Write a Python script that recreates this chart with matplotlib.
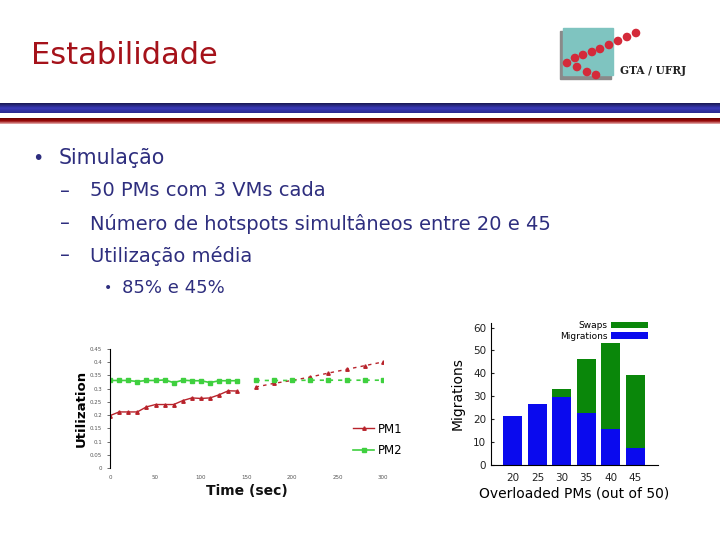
import numpy as np
import matplotlib
matplotlib.use('Agg')
import matplotlib.pyplot as plt
from matplotlib.patches import Rectangle, Circle
from matplotlib.colors import LinearSegmentedColormap

# ---- data ----
t_solid = [0, 10, 20, 30, 40, 50, 60, 70, 80, 90, 100, 110, 120, 130, 140]
pm1_solid = [0.198, 0.212, 0.212, 0.212, 0.231, 0.240, 0.240, 0.240, 0.255, 0.265, 0.263, 0.265, 0.277, 0.292, 0.291]
pm2_solid = [0.331, 0.331, 0.331, 0.327, 0.331, 0.331, 0.333, 0.323, 0.332, 0.330, 0.330, 0.323, 0.330, 0.330, 0.330]
t_dot = [160, 180, 200, 220, 240, 260, 280, 300]
pm1_dot = [0.306, 0.320, 0.331, 0.344, 0.359, 0.373, 0.387, 0.401]
pm2_dot = [0.331, 0.331, 0.331, 0.332, 0.332, 0.332, 0.332, 0.332]

overloaded = [20, 25, 30, 35, 40, 45]
migrations = [21.5, 26.6, 29.6, 22.8, 15.9, 7.6]
totals = [21.5, 26.6, 33.3, 46.4, 53.4, 39.4]
swaps = [tt - m for tt, m in zip(totals, migrations)]

bullets = [
    (0, u'Simulação'),
    (1, u'50 PMs com 3 VMs cada'),
    (1, u'Número de hotspots simultâneos entre 20 e 45'),
    (1, u'Utilização média'),
    (2, u'85% e 45%'),
]

W, H = 720, 540
fig = plt.figure(figsize=(7.2, 5.4), dpi=100)
fig.patch.set_facecolor('white')

def frac(x0, y0, x1, y1):
    # pixel box (top-left origin) -> figure fraction rect
    return [x0 / W, 1 - y1 / H, (x1 - x0) / W, (y1 - y0) / H]

# ---- slide decoration ----
bg = fig.add_axes([0, 0, 1, 1])
bg.set_xlim(0, W)
bg.set_ylim(H, 0)
bg.axis('off')

grad = np.linspace(0, 1, 20).reshape(-1, 1)
blue_cm = LinearSegmentedColormap.from_list('b', ['#1a1a55', '#3a3ab8', '#2a2a90'])
bg.imshow(grad, cmap=blue_cm, extent=[0, W, 113, 103], aspect='auto')
red_cm = LinearSegmentedColormap.from_list('r', ['#6a0000', '#9a0a0a', '#e8b0b0'])
bg.imshow(grad, cmap=red_cm, extent=[0, W, 124, 118], aspect='auto')

bg.text(31, 56, 'Estabilidade', color='#a5121a', fontsize=22, va='center', ha='left')

# logo
bg.add_patch(Rectangle((560, 31), 51, 48, color='#8a8a8a', zorder=2))
bg.add_patch(Rectangle((563, 28), 50, 47, color='#7fc4c0', zorder=3))
dots = [(567, 63), (575, 58), (583, 55), (592, 52), (600, 49), (609, 45), (618, 41), (627, 37), (636, 33),
        (577, 67), (587, 72), (596, 75)]
for dx, dy in dots:
    bg.add_patch(Circle((dx, dy), 3.6, color='#d42a3a', zorder=4))
bg.text(620, 70, 'GTA / UFRJ', family='DejaVu Serif', fontweight='bold', fontsize=7.6,
        color='#222222', va='center', ha='left')

text_col = '#2e2e7e'
rows_y = [158, 191, 224, 256, 288]
for (lvl, s), y in zip(bullets, rows_y):
    if lvl == 0:
        bg.text(32, y, u'•', color=text_col, fontsize=14, va='center')
        bg.text(59, y, s, color=text_col, fontsize=14.8, va='center')
    elif lvl == 1:
        bg.text(60, y, u'–', color=text_col, fontsize=14, va='center')
        bg.text(90, y, s, color=text_col, fontsize=14, va='center')
    else:
        bg.text(104, y, u'•', color=text_col, fontsize=10, va='center')
        bg.text(122, y, s, color=text_col, fontsize=13, va='center')

# ---- left chart: utilization ----
ax1 = fig.add_axes(frac(110, 349, 383, 468))
red = '#b8232b'
green = '#3fd03f'
ax1.plot(t_solid, pm1_solid, color=red, lw=1, marker='^', ms=2.5, label='PM1')
ax1.plot(t_solid, pm2_solid, color=green, lw=1.2, marker='s', ms=2.8, label='PM2')
ax1.plot(t_dot, pm1_dot, color=red, lw=1, ls=(0, (2.5, 3)), marker='^', ms=2.5)
ax1.plot(t_dot, pm2_dot, color=green, lw=1.2, ls=(0, (2.5, 3)), marker='s', ms=2.8)
ax1.set_xlim(0, 300)
ax1.set_ylim(0, 0.45)
ax1.set_xticks(range(0, 301, 50))
ax1.set_yticks(np.arange(0, 0.46, 0.05))
ax1.set_yticklabels(['0', '0.05', '0.1', '0.15', '0.2', '0.25', '0.3', '0.35', '0.4', '0.45'])
ax1.tick_params(labelsize=4, colors='#555555', length=2, width=0.6)
ax1.tick_params(axis='x', length=0, pad=5)
for sp in ['top', 'right', 'bottom']:
    ax1.spines[sp].set_visible(False)
ax1.spines['left'].set_linewidth(0.8)
ax1.set_ylabel('Utilization', fontsize=9.5, fontweight='bold', labelpad=2)
ax1.set_xlabel('Time (sec)', fontsize=10, fontweight='bold', labelpad=3, color='#111111')
ax1.legend(loc='lower right', bbox_to_anchor=(1.11, 0.0), frameon=False, fontsize=8.5,
           handlelength=1.8, handletextpad=0.3, labelspacing=0.75)

# ---- right chart: migrations / swaps ----
ax2 = fig.add_axes(frac(491, 323, 658, 465))
ax2.bar(overloaded, migrations, width=3.9, color='#0a0aee', label='Migrations')
ax2.bar(overloaded, swaps, width=3.9, bottom=migrations, color='#0a870a', label='Swaps')
ax2.set_xlim(15.5, 49.7)
ax2.set_ylim(0, 62)
ax2.set_xticks(overloaded)
ax2.set_yticks(range(0, 61, 10))
ax2.tick_params(axis='x', length=0, labelsize=7.5, colors='#222222', pad=6)
ax2.tick_params(axis='y', direction='in', length=2, labelsize=7.5, colors='#222222')
for sp in ['top', 'right']:
    ax2.spines[sp].set_visible(False)
ax2.set_ylabel('Migrations', fontsize=10, labelpad=6)
ax2.set_xlabel('Overloaded PMs (out of 50)', fontsize=10, labelpad=2)
h, l = ax2.get_legend_handles_labels()
ax2.legend(h[::-1], l[::-1], loc='upper right', bbox_to_anchor=(0.97, 1.05), frameon=False,
           fontsize=6.5, markerfirst=False, handlelength=4.0, handleheight=0.7,
           labelspacing=0.15, handletextpad=0.4, borderpad=0.1)

fig.savefig('out.png', dpi=100)
